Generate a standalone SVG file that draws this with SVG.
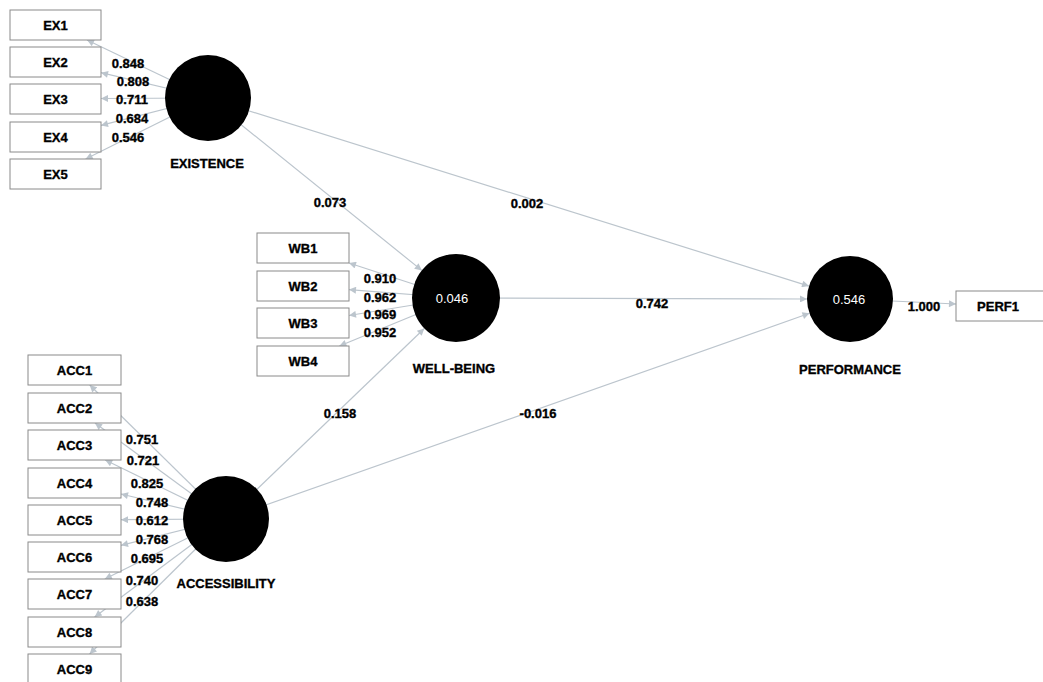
<svg xmlns="http://www.w3.org/2000/svg" width="1043" height="682" viewBox="0 0 1043 682">
<style>
.box{fill:#fff;stroke:#8a8a8a;stroke-width:1}
.lv{fill:#000}
.bt{font-family:"Liberation Sans",Arial,sans-serif;font-weight:bold;font-size:13px;fill:#000;stroke:#000;stroke-width:0.35;text-anchor:middle;dominant-baseline:central}
.ct{font-family:"Liberation Sans",Arial,sans-serif;font-size:13px;fill:#fff;text-anchor:middle;dominant-baseline:central}
.ln{stroke:#bcc5cd;stroke-width:1.2;fill:none;marker-end:url(#ah)}
</style>
<defs>
<marker id="ah" viewBox="0 0 10 10" refX="10" refY="5" markerWidth="9" markerHeight="7" markerUnits="userSpaceOnUse" orient="auto">
<path d="M0,0 L10,5 L0,10 Z" fill="#bcc5cd"/>
</marker>
</defs>
<g id="connectors">
<line class="ln" x1="208" y1="98" x2="87" y2="40"/>
<line class="ln" x1="208" y1="98" x2="101" y2="72.7"/>
<line class="ln" x1="208" y1="98" x2="101" y2="98.5"/>
<line class="ln" x1="208" y1="98" x2="101" y2="125.4"/>
<line class="ln" x1="208" y1="98" x2="85.6" y2="159"/>
<line class="ln" x1="456" y1="298" x2="349" y2="263"/>
<line class="ln" x1="456" y1="298" x2="349" y2="289.6"/>
<line class="ln" x1="456" y1="298" x2="349" y2="315.5"/>
<line class="ln" x1="456" y1="298" x2="339.4" y2="346"/>
<line class="ln" x1="226" y1="519" x2="89.7" y2="385"/>
<line class="ln" x1="226" y1="519" x2="95" y2="423"/>
<line class="ln" x1="226" y1="519" x2="105.2" y2="460"/>
<line class="ln" x1="226" y1="519" x2="121" y2="494"/>
<line class="ln" x1="226" y1="519" x2="121" y2="519.7"/>
<line class="ln" x1="226" y1="519" x2="121" y2="545.3"/>
<line class="ln" x1="226" y1="519" x2="104.8" y2="579"/>
<line class="ln" x1="226" y1="519" x2="94.6" y2="617"/>
<line class="ln" x1="226" y1="519" x2="89.6" y2="654"/>
<line class="ln" x1="208" y1="98" x2="421.8" y2="270.4"/>
<line class="ln" x1="208" y1="98" x2="809" y2="286.1"/>
<line class="ln" x1="456" y1="298" x2="807" y2="299"/>
<line class="ln" x1="226" y1="519" x2="424.3" y2="328.5"/>
<line class="ln" x1="226" y1="519" x2="809.5" y2="313.3"/>
<line class="ln" x1="850" y1="299" x2="956" y2="304"/>
</g>
<g id="path-labels">
<text class="bt" x="128" y="63">0.848</text>
<text class="bt" x="133" y="81">0.808</text>
<text class="bt" x="132" y="99">0.711</text>
<text class="bt" x="132" y="118">0.684</text>
<text class="bt" x="128" y="137">0.546</text>
<text class="bt" x="380" y="278">0.910</text>
<text class="bt" x="380" y="297">0.962</text>
<text class="bt" x="380" y="314">0.969</text>
<text class="bt" x="380" y="332">0.952</text>
<text class="bt" x="142" y="439">0.751</text>
<text class="bt" x="143" y="460">0.721</text>
<text class="bt" x="147" y="483">0.825</text>
<text class="bt" x="152" y="502">0.748</text>
<text class="bt" x="152" y="520">0.612</text>
<text class="bt" x="152" y="539">0.768</text>
<text class="bt" x="147" y="558">0.695</text>
<text class="bt" x="142" y="580">0.740</text>
<text class="bt" x="142" y="601">0.638</text>
<text class="bt" x="330" y="202">0.073</text>
<text class="bt" x="527" y="203">0.002</text>
<text class="bt" x="652" y="303">0.742</text>
<text class="bt" x="340" y="413">0.158</text>
<text class="bt" x="538" y="413">-0.016</text>
<text class="bt" x="924" y="306">1.000</text>
</g>
<g id="EX1"><rect class="box" x="10" y="10" width="91" height="30"/><text class="bt" x="55.5" y="25">EX1</text></g>
<g id="EX2"><rect class="box" x="10" y="47" width="91" height="30"/><text class="bt" x="55.5" y="62">EX2</text></g>
<g id="EX3"><rect class="box" x="10" y="84" width="91" height="30"/><text class="bt" x="55.5" y="99">EX3</text></g>
<g id="EX4"><rect class="box" x="10" y="122" width="91" height="30"/><text class="bt" x="55.5" y="137">EX4</text></g>
<g id="EX5"><rect class="box" x="10" y="159" width="91" height="30"/><text class="bt" x="55.5" y="174">EX5</text></g>
<g id="WB1"><rect class="box" x="257" y="233" width="92" height="30"/><text class="bt" x="303" y="248">WB1</text></g>
<g id="WB2"><rect class="box" x="257" y="271" width="92" height="30"/><text class="bt" x="303" y="286">WB2</text></g>
<g id="WB3"><rect class="box" x="257" y="308" width="92" height="30"/><text class="bt" x="303" y="323">WB3</text></g>
<g id="WB4"><rect class="box" x="257" y="346" width="92" height="30"/><text class="bt" x="303" y="361">WB4</text></g>
<g id="ACC1"><rect class="box" x="28" y="355" width="93" height="30"/><text class="bt" x="74.5" y="370">ACC1</text></g>
<g id="ACC2"><rect class="box" x="28" y="393" width="93" height="30"/><text class="bt" x="74.5" y="408">ACC2</text></g>
<g id="ACC3"><rect class="box" x="28" y="430" width="93" height="30"/><text class="bt" x="74.5" y="445">ACC3</text></g>
<g id="ACC4"><rect class="box" x="28" y="468" width="93" height="30"/><text class="bt" x="74.5" y="483">ACC4</text></g>
<g id="ACC5"><rect class="box" x="28" y="505" width="93" height="30"/><text class="bt" x="74.5" y="520">ACC5</text></g>
<g id="ACC6"><rect class="box" x="28" y="542" width="93" height="30"/><text class="bt" x="74.5" y="557">ACC6</text></g>
<g id="ACC7"><rect class="box" x="28" y="579" width="93" height="30"/><text class="bt" x="74.5" y="594">ACC7</text></g>
<g id="ACC8"><rect class="box" x="28" y="617" width="93" height="30"/><text class="bt" x="74.5" y="632">ACC8</text></g>
<g id="ACC9"><rect class="box" x="28" y="654" width="93" height="30"/><text class="bt" x="74.5" y="669">ACC9</text></g>
<g id="PERF1"><rect class="box" x="956" y="291" width="92" height="30"/><text class="bt" x="998" y="306">PERF1</text></g>
<g id="EXISTENCE"><circle class="lv" cx="208" cy="98" r="43"/><text class="bt" x="207" y="163">EXISTENCE</text></g>
<g id="WELL-BEING"><circle class="lv" cx="456" cy="298" r="44"/><text class="ct" x="452" y="298">0.046</text><text class="bt" x="454" y="368">WELL-BEING</text></g>
<g id="ACCESSIBILITY"><circle class="lv" cx="226" cy="519" r="43"/><text class="bt" x="226" y="583">ACCESSIBILITY</text></g>
<g id="PERFORMANCE"><circle class="lv" cx="850" cy="299" r="43"/><text class="ct" x="849" y="299">0.546</text><text class="bt" x="850" y="369">PERFORMANCE</text></g>
</svg>
